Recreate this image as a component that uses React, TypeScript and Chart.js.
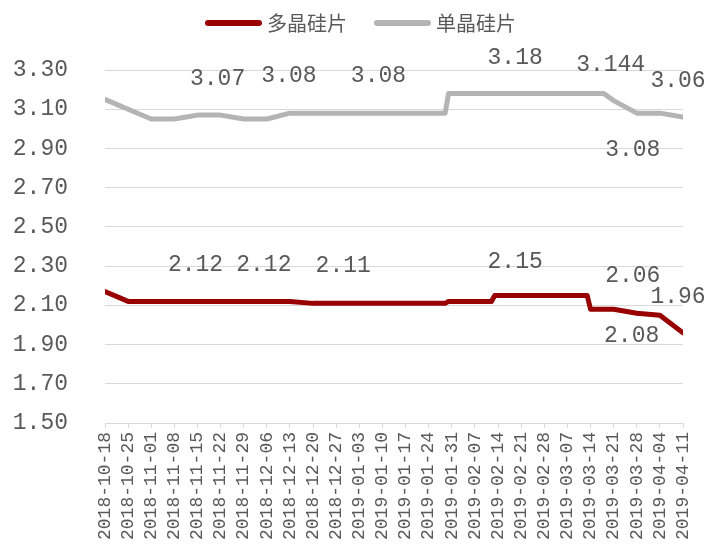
import React, { useEffect, useRef } from "react";
import { Chart, registerables } from "chart.js";

Chart.register(...registerables);

// Weekly axis labels
const weekLabels = [
  "2018-10-18", "2018-10-25", "2018-11-01", "2018-11-08", "2018-11-15", "2018-11-22",
  "2018-11-29", "2018-12-06", "2018-12-13", "2018-12-20", "2018-12-27", "2019-01-03",
  "2019-01-10", "2019-01-17", "2019-01-24", "2019-01-31", "2019-02-07", "2019-02-14",
  "2019-02-21", "2019-02-28", "2019-03-07", "2019-03-14", "2019-03-21", "2019-03-28",
  "2019-04-04", "2019-04-11",
];

// Quote dates (weekly quotes plus intra-week price changes)
const priceDates = [
  "2018-10-18", "2018-10-25", "2018-11-01", "2018-11-08", "2018-11-15", "2018-11-22",
  "2018-11-29", "2018-12-06", "2018-12-13", "2018-12-20", "2018-12-27", "2019-01-03",
  "2019-01-10", "2019-01-17", "2019-01-24", "2019-01-29", "2019-01-30", "2019-01-31",
  "2019-02-07", "2019-02-12", "2019-02-13", "2019-02-14", "2019-02-21", "2019-02-28",
  "2019-03-07", "2019-03-13", "2019-03-14", "2019-03-18", "2019-03-21", "2019-03-28",
  "2019-04-04", "2019-04-11",
];

// 多晶硅片 price
const polyPrices = [
  2.17, 2.12, 2.12, 2.12, 2.12, 2.12,
  2.12, 2.12, 2.12, 2.11, 2.11, 2.11,
  2.11, 2.11, 2.11, 2.11, 2.12, 2.12,
  2.12, 2.12, 2.15, 2.15, 2.15, 2.15,
  2.15, 2.15, 2.08, 2.08, 2.08, 2.06,
  2.05, 1.96,
];

// 单晶硅片 price
const monoPrices = [
  3.15, 3.10, 3.05, 3.05, 3.07, 3.07,
  3.05, 3.05, 3.08, 3.08, 3.08, 3.08,
  3.08, 3.08, 3.08, 3.08, 3.18, 3.18,
  3.18, 3.18, 3.18, 3.18, 3.18, 3.18,
  3.18, 3.18, 3.18, 3.18, 3.144, 3.08,
  3.08, 3.06,
];

// Y axis range and step
const yMin = 1.5;
const yMax = 3.3;
const yStep = 0.2;

const seriesNames = ["多晶硅片", "单晶硅片"];
const seriesColors = ["#990000", "#B4B4B4"];

// Annotated points: series index, date, and label offset from the point
const annotations = [
  { series: 1, date: "2018-11-22", dx: -3, dy: -36 },
  { series: 1, date: "2018-12-13", dx: -1, dy: -37 },
  { series: 1, date: "2019-01-10", dx: -4, dy: -37 },
  { series: 1, date: "2019-02-21", dx: -6, dy: -36 },
  { series: 1, date: "2019-03-21", dx: -3, dy: -36 },
  { series: 1, date: "2019-04-11", dx: -5, dy: -36 },
  { series: 1, date: "2019-03-28", dx: -4, dy: 37 },
  { series: 0, date: "2018-11-15", dx: -2, dy: -37 },
  { series: 0, date: "2018-12-06", dx: -3, dy: -37 },
  { series: 0, date: "2018-12-27", dx: 7, dy: -37 },
  { series: 0, date: "2019-02-21", dx: -6, dy: -34 },
  { series: 0, date: "2019-03-28", dx: -4, dy: -37 },
  { series: 0, date: "2019-04-11", dx: -5, dy: -36 },
  { series: 0, date: "2019-03-21", dx: 18, dy: 27 },
];

const TEXT_COLOR = "#595959";
const GRID_COLOR = "#D9D9D9";
const NUM_FONT = "'Liberation Mono', 'DejaVu Sans Mono', monospace";
const CJK_FONT = "'Noto Sans CJK SC', 'Noto Sans', sans-serif";

const dayMs = 86400000;
const toUtc = (s: string) => {
  const [y, m, d] = s.split("-").map(Number);
  return Date.UTC(y, m - 1, d);
};
const origin = toUtc(weekLabels[0]);
const dayIndex = (s: string) => Math.round((toUtc(s) - origin) / dayMs);

const pointLabelPlugin = {
  id: "pointLabels",
  afterDatasetsDraw(chart: any) {
    const ctx = chart.ctx;
    ctx.save();
    ctx.font = `23px ${NUM_FONT}`;
    ctx.fillStyle = TEXT_COLOR;
    ctx.textAlign = "center";
    ctx.textBaseline = "middle";
    for (const a of annotations) {
      const idx = priceDates.indexOf(a.date);
      const meta = chart.getDatasetMeta(a.series);
      const el = meta.data[idx];
      if (!el) continue;
      const value = chart.data.datasets[a.series].data[idx].y;
      ctx.fillText(String(value), el.x + a.dx, el.y + a.dy);
    }
    ctx.restore();
  },
};

const legendPlugin = {
  id: "topLegend",
  afterDraw(chart: any) {
    const ctx = chart.ctx;
    const ds = chart.data.datasets;
    const swatch = 57;
    const gapText = 5;
    const gapItem = 27;
    const cy = 23;
    ctx.save();
    ctx.font = `20px ${CJK_FONT}`;
    const widths = ds.map((d: any) => swatch + gapText + ctx.measureText(d.label).width);
    const total = widths.reduce((s: number, w: number) => s + w, 0) + gapItem * (ds.length - 1);
    let x = (chart.width - total) / 2;
    ds.forEach((d: any, i: number) => {
      ctx.strokeStyle = d.borderColor;
      ctx.lineWidth = 6;
      ctx.lineCap = "round";
      ctx.beginPath();
      ctx.moveTo(x + 3, cy);
      ctx.lineTo(x + swatch - 3, cy);
      ctx.stroke();
      ctx.fillStyle = TEXT_COLOR;
      ctx.textAlign = "left";
      ctx.textBaseline = "middle";
      ctx.fillText(d.label, x + swatch + gapText, cy);
      x += widths[i] + gapItem;
    });
    ctx.restore();
  },
};

export default function App() {
  const canvasRef = useRef<HTMLCanvasElement | null>(null);

  useEffect(() => {
    document.body.style.margin = "0";
    const canvas = canvasRef.current;
    if (!canvas) return;

    const series = [polyPrices, monoPrices];
    const chart = new Chart(canvas, {
      type: "line",
      data: {
        datasets: series.map((values, i) => ({
          label: seriesNames[i],
          data: priceDates.map((d, j) => ({ x: dayIndex(d), y: values[j] })),
          borderColor: seriesColors[i],
          backgroundColor: seriesColors[i],
          borderWidth: 5,
          borderCapStyle: "round" as const,
          borderJoinStyle: "round" as const,
          pointRadius: 0,
          pointHoverRadius: 0,
          tension: 0,
          fill: false,
        })),
      },
      options: {
        responsive: false,
        animation: false,
        events: [],
        layout: { padding: { top: 70, right: 38, bottom: 0, left: 0 } },
        plugins: {
          legend: { display: false },
          tooltip: { enabled: false },
        },
        scales: {
          x: {
            type: "linear",
            min: 0,
            max: dayIndex(weekLabels[weekLabels.length - 1]),
            afterFit: (scale: any) => {
              scale.height = 122;
            },
            grid: {
              drawOnChartArea: false,
              drawTicks: true,
              tickLength: 5,
              color: GRID_COLOR,
            },
            border: { display: true, color: GRID_COLOR },
            ticks: {
              stepSize: 7,
              maxTicksLimit: 100,
              autoSkip: false,
              minRotation: 90,
              maxRotation: 90,
              padding: 4,
              color: TEXT_COLOR,
              font: { family: NUM_FONT, size: 18 },
              callback: (v: any) => weekLabels[Math.round(Number(v) / 7)] ?? "",
            },
          },
          y: {
            type: "linear",
            min: yMin,
            max: yMax,
            afterFit: (scale: any) => {
              scale.width = 105;
            },
            grid: { color: GRID_COLOR, lineWidth: 1, drawTicks: false },
            border: { display: false },
            ticks: {
              stepSize: yStep,
              padding: 37,
              color: TEXT_COLOR,
              font: { family: NUM_FONT, size: 23 },
              callback: (v: any) => Number(v).toFixed(2),
            },
          },
        },
      },
      plugins: [pointLabelPlugin, legendPlugin],
    });

    return () => chart.destroy();
  }, []);

  return (
    <div style={{ width: 721, height: 545, background: "#fff" }}>
      <canvas ref={canvasRef} width={721} height={545} />
    </div>
  );
}
